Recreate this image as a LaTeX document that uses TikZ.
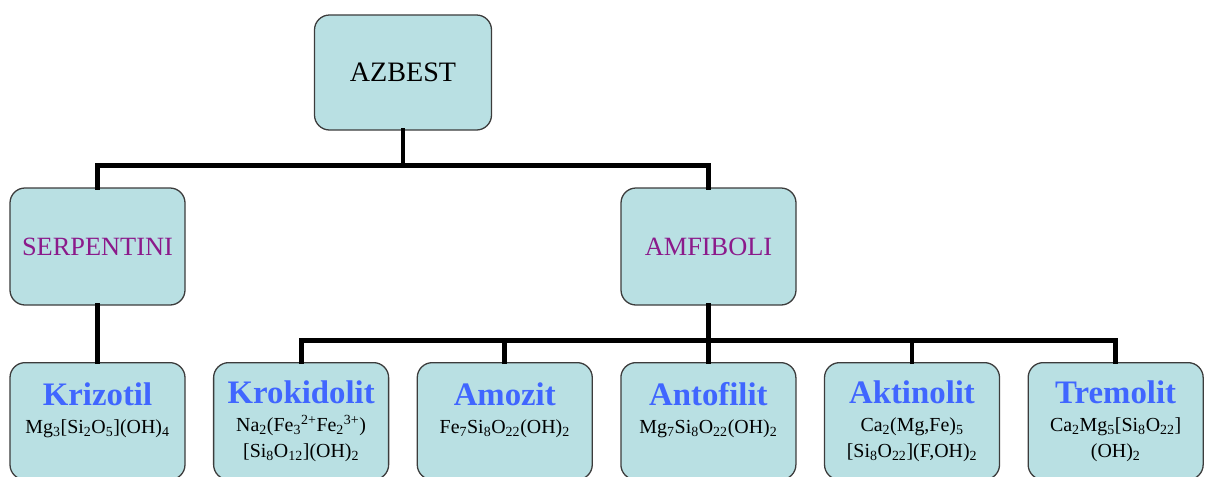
\documentclass[tikz,border=0pt]{standalone}
\usepackage{fontspec}
\setmainfont{Liberation Serif}[BoldFont={Liberation Serif Bold}]
\usepackage{xcolor}
\usepackage{tikz}
\usetikzlibrary{positioning}

\definecolor{boxfill}{RGB}{185,224,227}
\definecolor{boxline}{RGB}{60,60,60}
\definecolor{titleblue}{RGB}{64,102,255}
\definecolor{grouppurple}{RGB}{139,26,139}

\begin{document}
\begin{tikzpicture}[
  x=0.03cm,y=-0.03cm,
  box/.style={
    rectangle,draw=boxline,line width=1.1pt,fill=boxfill,
    rounded corners=0.45cm,inner sep=0pt,
    minimum width=5.25cm,minimum height=3.51cm,
    align=center
  },
  topbox/.style={box,minimum width=5.31cm,minimum height=3.45cm,
    font=\fontsize{24}{28}\selectfont},
  groupbox/.style={box,text=grouppurple,font=\fontsize{22.5}{26}\selectfont},
  leaf/.style={box,font=\fontsize{17}{22}\selectfont},
  link/.style={line width=4.2pt,line cap=rect}
]
\useasboundingbox (0,0) rectangle (1206,476);

\node[topbox] (azbest) at (403,72.5) {AZBEST};
\node[groupbox] (serpentini) at (97.5,246.5) {SERPENTINI};
\node[groupbox] (amfiboli) at (708.5,246.5) {AMFIBOLI};

\node[leaf,anchor=north] (krizotil) at (97.5,362) {{\fontsize{28}{30}\selectfont\bfseries\color{titleblue}Krizotil}\\[2pt]
  Mg\textsubscript{3}[Si\textsubscript{2}O\textsubscript{5}](OH)\textsubscript{4}\\~};
\node[leaf,right=0.82cm of krizotil] (krokidolit) {{\fontsize{28}{30}\selectfont\bfseries\color{titleblue}Krokidolit}\\[2pt]
  Na\textsubscript{2}(Fe\textsubscript{3}\textsuperscript{2+}Fe\textsubscript{2}\textsuperscript{3+})\\
  {[}Si\textsubscript{8}O\textsubscript{12}](OH)\textsubscript{2}};
\node[leaf,right=0.82cm of krokidolit] (amozit) {{\fontsize{28}{30}\selectfont\bfseries\color{titleblue}Amozit}\\[2pt]
  Fe\textsubscript{7}Si\textsubscript{8}O\textsubscript{22}(OH)\textsubscript{2}\\~};
\node[leaf,right=0.82cm of amozit] (antofilit) {{\fontsize{28}{30}\selectfont\bfseries\color{titleblue}Antofilit}\\[2pt]
  Mg\textsubscript{7}Si\textsubscript{8}O\textsubscript{22}(OH)\textsubscript{2}\\~};
\node[leaf,right=0.82cm of antofilit] (aktinolit) {{\fontsize{28}{30}\selectfont\bfseries\color{titleblue}Aktinolit}\\[2pt]
  Ca\textsubscript{2}(Mg,Fe)\textsubscript{5}\\
  {[}Si\textsubscript{8}O\textsubscript{22}](F,OH)\textsubscript{2}};
\node[leaf,right=0.82cm of aktinolit] (tremolit) {{\fontsize{28}{30}\selectfont\bfseries\color{titleblue}Tremolit}\\[2pt]
  Ca\textsubscript{2}Mg\textsubscript{5}[Si\textsubscript{8}O\textsubscript{22}]\\
  (OH)\textsubscript{2}};

% top level
\draw[link] (azbest.south) -- ++(0,35) -| (serpentini.north);
\draw[link] (azbest.south) -- ++(0,35) -| (amfiboli.north);
\draw[link] (serpentini.south) -- (krizotil.north);

% amfiboli group
\foreach \m in {krokidolit,amozit,antofilit,aktinolit,tremolit}
  \draw[link] (amfiboli.south) -- ++(0,35) -| (\m.north);

\end{tikzpicture}
\end{document}
